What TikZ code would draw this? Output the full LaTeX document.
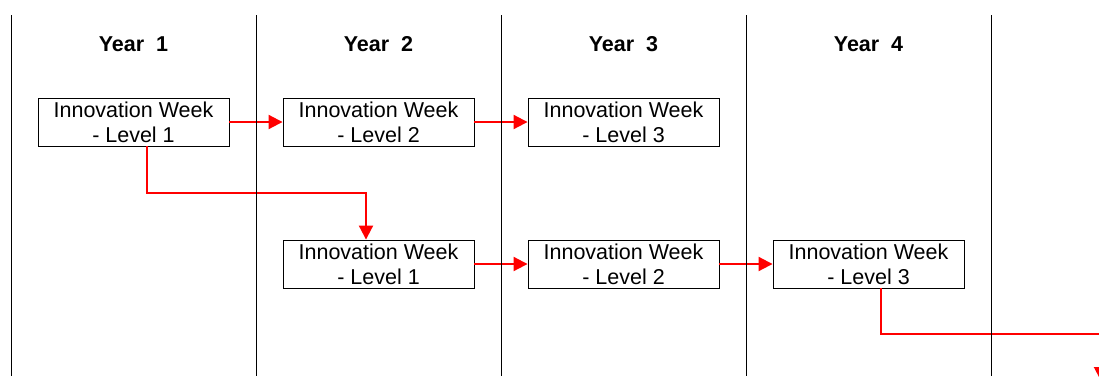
\documentclass[tikz,border=0pt]{standalone}
\usepackage{fontspec}
\setmainfont{Liberation Sans}
\usetikzlibrary{arrows.meta}
\begin{document}
\begin{tikzpicture}[x=1pt,y=-1pt,
  stagebox/.style={draw=black,line width=0.9pt,fill=white,minimum width=191pt,minimum height=48pt,inner sep=0pt,align=center,font=\fontsize{21.5}{25}\selectfont},
  yearlabel/.style={anchor=base,inner sep=0pt,font=\fontsize{21.5}{25}\selectfont\bfseries},
  divider/.style={draw=black,line width=1pt},
  arr/.style={draw=red,line width=2pt,-{Triangle[length=14pt,width=14pt]}}]
\useasboundingbox (0,0) rectangle (1099,376);
\clip (0,0) rectangle (1099,376);
% year labels
\node[yearlabel] (y1) at (133.5,51.5) {Year\ \ 1};
\node[yearlabel] (y2) at (378.5,51.5) {Year\ \ 2};
\node[yearlabel] (y3) at (623.5,51.5) {Year\ \ 3};
\node[yearlabel] (y4) at (868.5,51.5) {Year\ \ 4};
% boxes
\node[stagebox] (b1) at (133.5,122) {Innovation Week\\- Level 1};
\node[stagebox] (b2) at (378.5,122) {Innovation Week\\- Level 2};
\node[stagebox] (b3) at (623.5,122) {Innovation Week\\- Level 3};
\node[stagebox] (c1) at (378.5,264) {Innovation Week\\- Level 1};
\node[stagebox] (c2) at (623.5,264) {Innovation Week\\- Level 2};
\node[stagebox] (c3) at (868.5,264) {Innovation Week\\- Level 3};
% connectors
\coordinate (k1) at (147,193);
\coordinate (k2) at (366,193);
\coordinate (m1) at (881,334);
\coordinate (m2) at (1101,334);
\coordinate (m3) at (1101,381);
\draw[arr] (b1) -- (b2);
\draw[arr] (b2) -- (b3);
\draw[arr] (c1) -- (c2);
\draw[arr] (c2) -- (c3);
\draw[arr] (b1.south -| k1) -- (k1) -- (k2) -- (c1.north -| k2);
\draw[arr] (c3.south -| m1) -- (m1) -- (m2) -- (m3);
% column dividers
\coordinate (d1t) at (11,15);  \coordinate (d1b) at (11,376);
\coordinate (d2t) at (256,15); \coordinate (d2b) at (256,376);
\coordinate (d3t) at (501,15); \coordinate (d3b) at (501,376);
\coordinate (d4t) at (746,15); \coordinate (d4b) at (746,376);
\coordinate (d5t) at (991,15); \coordinate (d5b) at (991,376);
\draw[divider] (d1t) -- (d1b);
\draw[divider] (d2t) -- (d2b);
\draw[divider] (d3t) -- (d3b);
\draw[divider] (d4t) -- (d4b);
\draw[divider] (d5t) -- (d5b);
\end{tikzpicture}
\end{document}
